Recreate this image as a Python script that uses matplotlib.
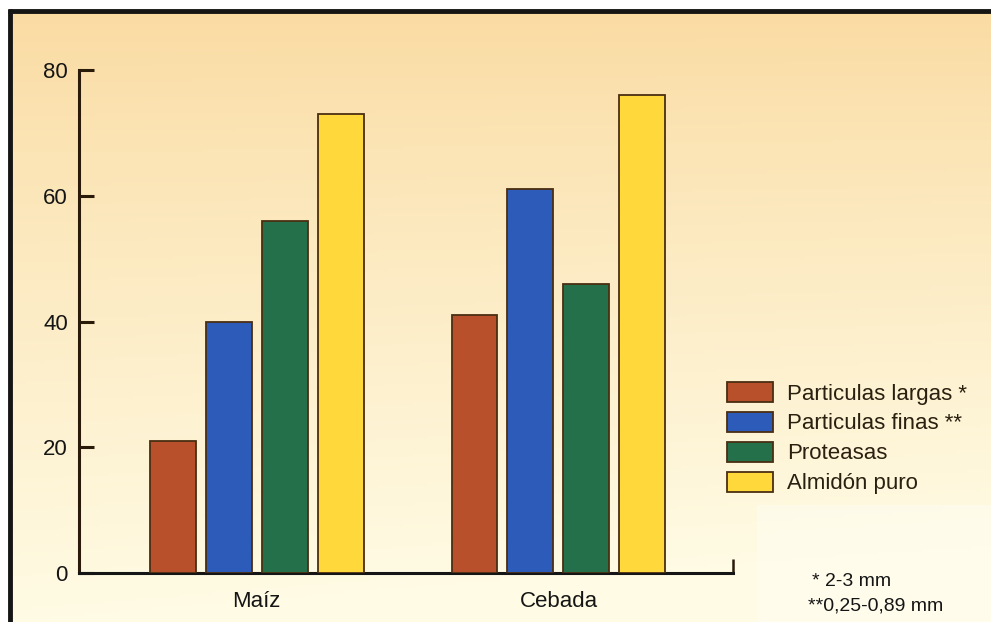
import matplotlib
matplotlib.use("Agg")
import matplotlib.pyplot as plt
from matplotlib.patches import Rectangle
import numpy as np

plt.rcParams['font.family'] = ['Liberation Sans', 'DejaVu Sans']

# Data
grupos = ["Maíz", "Cebada"]
series = ["Particulas largas *", "Particulas finas **", "Proteasas", "Almidón puro"]
largas = [21, 41]
finas = [40, 61]
proteasas = [56, 46]
almidon = [73, 76]
valores = [largas, finas, proteasas, almidon]
colores = ["#B9502C", "#2C5BBA", "#24704B", "#FFD93C"]
yticks = [0, 20, 40, 60, 80]
notas = ["* 2-3 mm", "**0,25-0,89 mm"]

W, H = 991, 622
fig = plt.figure(figsize=(W / 100, H / 100), dpi=100)
fig.patch.set_facecolor("white")

# background panel with warm gradient and black frame (top + left)
bg = fig.add_axes([0, 0, 1, 1])
bg.set_xlim(0, W)
bg.set_ylim(H, 0)
bg.axis("off")
yy = np.linspace(0, 1, 200)[:, None]
xx = np.linspace(0, 1, 200)[None, :]
top = np.array([250, 219, 162]) / 255
bot = np.array([255, 251, 228]) / 255
t = np.clip(yy ** 0.85 + 0.12 * xx * yy, 0, 1)
grad = top[None, None, :] * (1 - t[..., None]) + bot[None, None, :] * t[..., None]
bg.imshow(grad, extent=(11, W, H, 12), aspect="auto", zorder=0)
# slightly paler area behind the footnotes
bg.add_patch(Rectangle((757, 505), W - 757, H - 505, facecolor="#FFFEF6",
                       edgecolor="none", alpha=0.45, zorder=1))
bg.plot([8, W], [11, 11], color="#151515", lw=3.5, solid_capstyle="butt", zorder=2)
bg.plot([10, 10], [9, H], color="#151515", lw=3.5, solid_capstyle="butt", zorder=2)

# main axes
ax = fig.add_axes([79 / W, 1 - 573 / H, (733 - 79) / W, (573 - 70) / H])
ax.set_facecolor("none")

x = np.arange(len(grupos))
paso = 56 / 302
ancho = 46 / 302
for i, (vals, col, lab) in enumerate(zip(valores, colores, series)):
    ax.bar(x + (i - 1.5) * paso, vals, width=ancho, color=col,
           edgecolor="#4A2E12", linewidth=1.3, label=lab, zorder=3)

ax.set_ylim(0, 80)
ax.set_xlim(-0.588, 1.578)
ax.set_yticks(yticks)
ax.set_yticklabels([str(v) for v in yticks], fontsize=16, color="#151515")
ax.set_xticks(x)
ax.set_xticklabels(grupos, fontsize=16, color="#151515")
ax.tick_params(axis="x", length=0, pad=13)
ax.tick_params(axis="y", direction="in", length=11, width=2.2, color="#2a1a0a", pad=8)
# small upward tick at right end of x axis
ax.set_xticks([1.578], minor=True)
ax.tick_params(axis="x", which="minor", direction="in", length=10, width=1.8, color="#2a1a0a")

for s in ["top", "right"]:
    ax.spines[s].set_visible(False)
ax.spines["left"].set_linewidth(2.2)
ax.spines["left"].set_color("#2a1a0a")
ax.spines["bottom"].set_linewidth(2.2)
ax.spines["bottom"].set_color("#151515")

leg = ax.legend(loc="upper left", bbox_to_anchor=(727 / W, 1 - 382 / H),
                bbox_transform=fig.transFigure, frameon=False, fontsize=16,
                handlelength=2.07, handleheight=1.0, handletextpad=0.65,
                labelspacing=0.33, borderpad=0, borderaxespad=0)
for txt in leg.get_texts():
    txt.set_color("#2a2010")

fig.text(812 / W, 1 - 582 / H, notas[0], fontsize=14, color="#151515", va="center")
fig.text(808 / W, 1 - 606 / H, notas[1], fontsize=14, color="#151515", va="center")

fig.savefig("out.png", dpi=100)
